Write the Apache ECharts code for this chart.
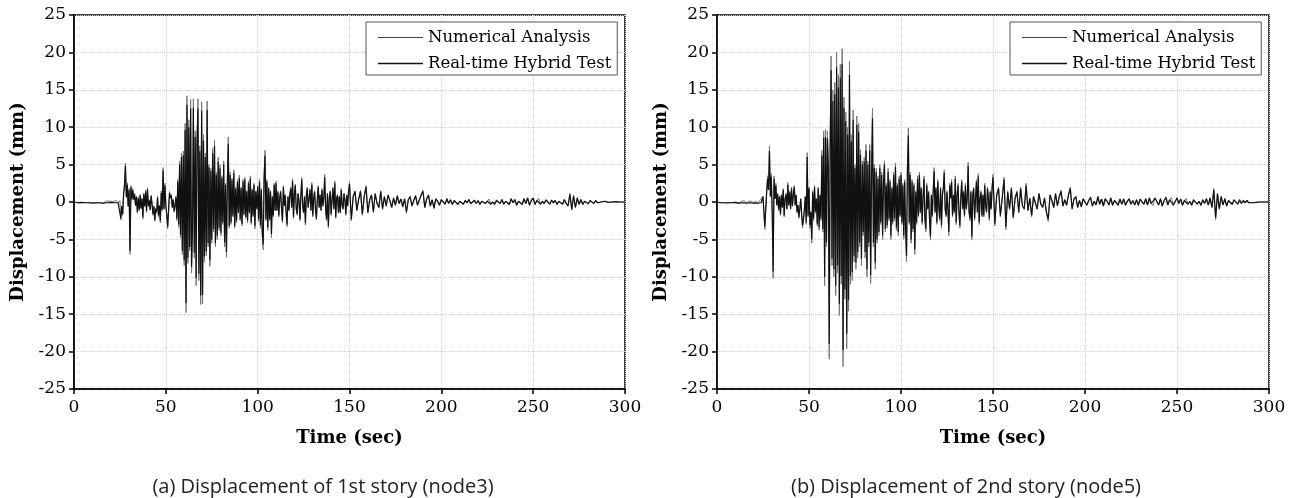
<!DOCTYPE html>
<html>
<head>
<meta charset="utf-8">
<script src="https://cdn.jsdelivr.net/npm/echarts/dist/echarts.min.js"></script>
<style>html,body{margin:0;padding:0;background:#fff}#c{width:1296px;height:498px}</style>
</head>
<body>
<div id="c"></div>
<script>
// Sampling grid of the records: [start, end, step] in seconds
const timeSegments = [[0, 24, 1], [25, 149.5, 0.5], [150, 300, 1]];
const xTicks = [0, 50, 100, 150, 200, 250, 300];
const yTicks = [-25, -20, -15, -10, -5, 0, 5, 10, 15, 20, 25];
const seriesNames = ['Numerical Analysis', 'Real-time Hybrid Test'];
const captions = ['(a) Displacement of 1st story (node3)', '(b) Displacement of 2nd story (node5)'];

// Panel (a): 1st story (node3), displacement in mm
const storyA_numerical = [
0,0.1,-0.1,0.05,-0.1,0.1,-0.05,0.1,-0.1,0.15,-0.1,0.05,-0.15,0.1,-0.1,0.05,-0.2,0.1,-0.1,0.15,-0.1,0.05,-0.15,0.2,-0.1,
0.2,-2.4,-0.5,-1.8,1.2,2.5,5.2,0.8,2.6,-0.5,
1.8,-7.0,2.2,0.2,1.8,0.5,1.2,-0.3,0.8,-1.5,
0.6,-1.2,1.0,-0.8,0.4,-2.3,1.2,-0.5,1.6,-1.4,
1.9,-0.6,0.3,-1.0,0.9,-0.2,-1.8,-0.5,-2.6,-0.8,
-1.5,0.8,-2.0,-0.4,-2.8,1.5,-1.2,4.6,-1.0,2.5,
-0.5,-1.8,-3.6,-1.2,1.4,0.6,1.0,-0.8,0.4,-1.4,
-0.6,0.8,-2.5,3.0,-3.4,5.5,-4.8,6.5,-7.0,6.8,
-8.5,10.5,-14.8,14.2,-8.2,11.0,-6.5,13.7,-9.5,-4.0,
13.8,-7.5,9.5,-11.2,8.8,13.8,-10.5,7.5,-13.7,13.4,
-13.6,9.0,-8.0,6.5,-7.2,13.5,-6.0,5.0,-8.6,4.5,
-5.5,7.2,-4.0,8.3,-6.0,4.0,-5.0,6.0,-3.8,5.0,
-4.5,3.5,-3.0,5.5,-6.0,2.5,-7.4,3.0,8.7,-3.5,
4.0,-3.0,3.2,-2.0,4.3,-3.5,2.0,-2.8,3.0,-1.5,
3.6,-2.5,2.0,-3.2,3.0,-1.8,3.3,-2.2,1.5,-2.8,
2.8,-1.5,3.5,-3.0,1.8,-2.0,2.5,-3.6,1.5,-1.0,
2.2,-2.6,3.0,-3.5,1.8,-4.5,-6.4,3.5,6.9,-2.5,
3.0,-3.8,2.0,-2.5,1.5,-4.8,0.8,-2.0,2.5,-1.2,
2.8,-1.2,1.5,-2.0,0.6,1.5,-1.0,-2.8,2.2,-0.5,
1.0,-1.5,-3.3,0.8,-1.2,1.0,2.0,-0.8,3.1,-2.2,
1.2,2.4,-1.0,-1.8,1.2,0.2,-2.5,0.8,3.3,-0.5,
-1.5,0.8,-3.1,1.0,2.0,-0.8,-1.0,1.8,-1.2,2.6,
-2.0,0.5,1.5,-1.2,-2.4,0.6,2.2,-0.8,1.0,-1.2,
1.8,-0.6,0.5,3.7,-1.0,-2.5,1.2,-3.5,0.6,1.5,
-1.8,0.4,2.0,-1.0,2.8,-2.2,0.5,1.0,-1.5,0.8,
-1.5,1.8,-0.4,-1.0,1.2,0.3,-1.8,1.0,-0.6,1.5,
2.7,-2.5,0.8,1.5,-1.2,0.4,1.6,-1.8,0.8,2.2,
-1.5,0.3,1.0,-1.4,1.2,-0.2,-0.8,1.5,-1.0,0.8,
-0.6,1.0,0.2,-0.8,0.6,-0.5,0.9,-0.2,0.4,-0.7,
0.5,-1.5,0.3,0.8,-0.6,0.2,0.9,-0.5,-0.3,1.0,
1.6,-0.8,0.4,1.0,-0.6,0.3,-0.9,0.5,0.1,-0.5,
0.4,0.1,-0.3,0.5,-0.2,0.3,-0.4,0.2,0.3,-0.4,
0.1,0.3,-0.3,0.2,-0.1,0.4,-0.3,0.0,0.3,-0.2,
0.2,-0.4,0.1,0.3,-0.2,0.1,0.4,-0.3,0.0,-0.4,
0.3,0.1,-0.2,0.4,-0.3,0.1,0.3,-0.4,0.5,-0.1,
0.4,-0.5,0.1,0.3,-0.4,0.5,-0.2,0.6,-0.5,0.2,
0.6,-0.4,0.2,0.5,-0.3,0.1,-0.2,0.3,0.0,-0.3,
0.3,-0.1,0.2,-0.4,0.1,0.2,-0.3,0.4,-0.2,-0.6,
1.2,-1.1,0.9,-0.8,0.6,-0.3,0.4,-0.4,0.1,0.3,
-0.3,0.2,0.1,-0.2,0.2,-0.1,0.1,0.0,-0.1,0.1,
0.05,-0.05,0.05,0,-0.05,0.05,0,0,0,0,0
];
const storyA_hybrid = [
0,0.05,-0.1,0.1,-0.05,0.1,-0.1,0.05,-0.1,0.1,-0.15,0.1,-0.1,0.05,-0.1,0.1,-0.15,0.05,-0.1,0.1,-0.05,0.1,-0.1,0.15,-0.1,
0.1,-2.2,-0.6,-1.6,1.0,2.2,4.8,0.6,2.3,-0.6,
1.6,-6.5,2.0,0.4,1.6,0.3,1.0,-0.5,0.7,-1.3,
0.5,-1.0,0.9,-0.9,0.5,-2.0,1.0,-0.6,1.4,-1.2,
1.7,-0.5,0.2,-1.1,0.8,-0.3,-1.6,-0.6,-2.4,-0.9,
-1.3,0.6,-1.8,-0.5,-2.5,1.2,-1.0,4.2,-0.9,2.2,
-0.6,-1.6,-3.3,-1.0,1.2,0.5,0.9,-0.7,0.3,-1.2,
-0.5,0.6,-2.2,2.7,-3.0,5.0,-4.4,6.0,-6.5,6.2,
-7.8,9.6,-13.5,13.0,-7.5,10.0,-6.0,12.5,-8.7,-3.6,
12.6,-6.8,8.7,-10.2,8.0,12.5,-9.6,6.8,-12.5,12.2,
-12.4,8.2,-7.3,6.0,-6.6,12.3,-5.5,4.6,-7.8,4.1,
-5.0,6.5,-3.6,7.5,-5.5,3.6,-4.5,5.4,-3.4,4.5,
-4.1,3.2,-2.7,5.0,-5.4,2.3,-6.7,2.7,7.8,-3.2,
3.6,-2.7,2.9,-1.8,3.9,-3.2,1.8,-2.5,2.7,-1.4,
3.2,-2.3,1.8,-2.9,2.7,-1.6,3.0,-2.0,1.4,-2.5,
2.5,-1.4,3.1,-2.7,1.6,-1.8,2.3,-3.2,1.4,-0.9,
2.0,-2.3,2.7,-3.1,1.6,-4.0,-5.7,3.2,6.2,-2.3,
2.7,-3.4,1.8,-2.3,1.4,-4.3,0.7,-1.8,2.3,-1.1,
2.5,-1.1,1.3,-1.8,0.5,1.4,-0.9,-2.5,2.0,-0.5,
0.9,-1.4,-3.0,0.7,-1.1,0.9,1.8,-0.7,2.8,-2.0,
1.1,2.2,-0.9,-1.6,1.1,0.2,-2.3,0.7,3.0,-0.5,
-1.4,0.7,-2.8,0.9,1.8,-0.7,-0.9,1.6,-1.1,2.3,
-1.8,0.5,1.4,-1.1,-2.2,0.5,2.0,-0.7,0.9,-1.1,
1.6,-0.5,0.5,3.3,-0.9,-2.3,1.1,-3.2,0.5,1.4,
-1.6,0.4,1.8,-0.9,2.5,-2.0,0.5,0.9,-1.4,0.7,
-1.4,1.6,-0.4,-0.9,1.1,0.3,-1.6,0.9,-0.5,1.4,
2.4,-2.3,0.7,1.4,-1.1,0.4,1.4,-1.6,0.7,2.0,
-1.4,0.3,0.9,-1.3,1.1,-0.2,-0.7,1.4,-0.9,0.7,
-0.5,0.9,0.2,-0.7,0.5,-0.4,0.8,-0.2,0.4,-0.6,
0.4,-1.3,0.3,0.7,-0.5,0.2,0.8,-0.4,-0.3,0.9,
1.4,-0.7,0.4,0.9,-0.5,0.3,-0.8,0.4,0.1,-0.4,
0.3,0.1,-0.3,0.4,-0.2,0.3,-0.3,0.2,0.2,-0.3,
0.1,0.2,-0.3,0.2,-0.1,0.3,-0.2,0.0,0.2,-0.2,
0.2,-0.3,0.1,0.2,-0.2,0.1,0.3,-0.3,0.0,-0.3,
0.2,0.1,-0.2,0.3,-0.3,0.1,0.2,-0.3,0.4,-0.1,
0.3,-0.4,0.1,0.3,-0.3,0.4,-0.2,0.5,-0.4,0.2,
0.5,-0.3,0.2,0.4,-0.3,0.1,-0.2,0.3,0.0,-0.3,
0.2,-0.1,0.2,-0.3,0.1,0.2,-0.3,0.3,-0.2,-0.5,
1.0,-1.0,0.8,-0.7,0.5,-0.3,0.3,-0.3,0.1,0.2,
-0.2,0.2,0.1,-0.2,0.2,-0.1,0.1,0.0,-0.1,0.1,
0.05,-0.05,0,0,-0.05,0.05,0,0,0,0,0
];

// Panel (b): 2nd story (node5), displacement in mm
const storyB_numerical = [
0,0.1,-0.1,0.15,-0.1,0.1,-0.15,0.1,-0.05,0.15,-0.1,0.1,-0.2,0.1,-0.1,0.15,-0.2,0.1,-0.15,0.1,-0.2,0.15,-0.2,0.1,-0.1,
0.8,-1.5,-3.7,-1.0,1.5,3.5,1.8,7.5,0.8,3.8,
-1.5,-10.2,3.5,0.5,2.5,-0.5,1.2,-1.2,0.8,-1.8,
1.0,-0.8,1.8,-2.0,0.5,1.2,-1.0,2.6,-0.5,1.5,
-1.0,2.0,-0.6,1.2,2.2,-0.5,1.0,-1.5,-0.5,-2.2,
-1.0,0.5,-1.8,-3.5,-2.5,-1.0,0.8,-3.0,6.6,-2.0,
2.0,-3.5,-1.5,-5.5,1.5,-2.5,2.2,-1.5,0.5,-3.2,
2.0,-3.8,1.0,-2.5,6.9,-4.0,9.5,-11.2,9.7,-6.0,
9.5,5.0,-21.0,8.0,19.5,-8.5,15.0,-10.0,16.0,-12.5,
20.0,-9.5,17.0,-15.2,18.4,-11.0,20.5,-22.0,14.0,-13.0,
12.0,-19.6,10.0,-14.6,18.8,-11.0,9.0,-10.5,12.3,-8.0,
5.0,-9.0,11.5,-7.5,10.5,-6.0,7.0,-8.5,5.5,-4.5,
6.0,-7.5,7.7,-10.0,5.5,-6.0,7.7,-10.9,4.0,12.5,
-6.0,5.0,-9.0,4.5,-5.5,3.5,-4.5,5.0,-3.0,4.0,
-5.0,3.0,5.5,-4.0,2.5,-3.5,4.5,-2.5,3.0,-5.0,
2.0,-3.0,4.0,-2.5,5.2,-3.8,2.5,-4.5,3.5,-2.0,
4.0,-3.0,2.5,-5.0,3.0,-4.0,-8.0,5.0,9.9,-3.0,
4.0,-5.5,3.0,-4.0,2.5,-7.0,1.5,-3.0,3.5,-2.0,
4.0,-1.5,2.0,-3.0,0.8,3.5,-2.5,-4.0,2.5,-1.0,
1.5,-2.5,-5.1,1.0,-2.0,1.5,4.6,-1.5,2.0,-3.0,
3.0,-0.5,-2.5,2.0,-3.5,1.0,2.0,4.3,-1.0,-2.0,
1.5,-1.0,-4.5,2.5,0.5,3.0,-2.0,1.0,-1.5,3.5,
-3.0,1.0,2.5,-1.5,-3.5,0.5,3.0,-1.0,1.5,-2.0,
2.5,-1.0,0.5,5.3,-1.5,-2.5,1.5,-5.1,1.0,2.0,
-2.5,0.5,3.0,-1.5,3.8,-3.0,0.5,1.5,-2.0,1.0,
-2.0,2.5,-0.5,-1.5,2.0,0.5,-2.5,1.5,-1.0,2.0,
3.7,-3.2,1.0,2.0,-2.0,0.5,3.3,-3.7,1.5,-1.0,
2.0,-2.2,0.5,1.5,-1.5,2.0,-0.5,-1.0,2.5,-1.2,
0.5,-2.0,0.8,1.0,-1.0,1.2,-0.3,-0.8,0.6,-1.5,
-2.6,1.0,0.2,-0.8,1.2,-0.5,0.8,1.6,-0.6,0.3,
-0.5,1.0,2.0,-1.0,0.4,0.8,-0.8,0.2,-0.7,0.5,
0.6,-0.5,0.2,0.7,-0.6,0.1,-0.4,0.8,-0.3,0.4,
-0.6,0.5,0.1,-0.4,0.6,-0.5,0.2,0.3,-0.5,0.4,
-0.3,0.4,-0.5,0.1,0.5,-0.3,0.2,-0.4,0.3,-0.5,
0.4,0.0,-0.3,0.5,-0.4,0.6,-0.2,-0.5,0.6,0.1,
-0.4,0.5,-0.6,0.2,0.7,-0.4,0.3,0.6,-0.5,-0.7,
0.6,-0.2,0.4,-0.5,0.2,0.5,-0.3,0.1,-0.5,0.3,
0.5,-0.3,0.1,-0.5,0.3,-0.2,0.5,-0.4,0.6,-0.8,
1.8,-2.4,1.2,-1.0,0.8,-0.4,0.5,-0.6,0.2,0.4,
-0.4,0.3,0.1,-0.3,0.3,-0.2,0.2,-0.1,0.2,-0.1,
0.1,-0.1,0.1,-0.05,0.05,0,0.05,0,0,0,0
];
const storyB_hybrid = [
0,0.05,-0.1,0.1,-0.1,0.05,-0.1,0.1,-0.1,0.1,-0.05,0.1,-0.15,0.05,-0.1,0.1,-0.15,0.1,-0.1,0.05,-0.15,0.1,-0.15,0.05,-0.1,
0.7,-1.3,-3.3,-0.9,1.3,3.1,1.6,6.8,0.7,3.4,
-1.3,-9.3,3.1,0.4,2.2,-0.4,1.0,-1.0,0.7,-1.6,
0.9,-0.7,1.6,-1.8,0.4,1.0,-0.9,2.3,-0.4,1.3,
-0.9,1.8,-0.5,1.0,2.0,-0.4,0.9,-1.3,-0.4,-2.0,
-0.9,0.4,-1.6,-3.1,-2.2,-0.9,0.7,-2.7,6.0,-1.8,
1.8,-3.1,-1.3,-5.0,1.3,-2.2,2.0,-1.3,0.4,-2.9,
1.8,-3.4,0.9,-2.2,6.2,-3.6,8.6,-10.0,8.7,-5.4,
8.5,4.5,-19.0,7.2,17.6,-7.6,13.5,-9.0,14.4,-11.2,
18.0,-8.5,15.3,-13.6,16.6,-9.9,18.4,-19.8,12.6,-11.7,
10.8,-17.6,9.0,-13.1,17.0,-9.9,8.1,-9.4,11.0,-7.2,
4.5,-8.1,10.3,-6.7,9.4,-5.4,6.3,-7.6,5.0,-4.0,
5.4,-6.7,6.9,-9.0,5.0,-5.4,6.9,-9.8,3.6,11.2,
-5.4,4.5,-8.1,4.0,-5.0,3.1,-4.0,4.5,-2.7,3.6,
-4.5,2.7,5.0,-3.6,2.2,-3.1,4.0,-2.2,2.7,-4.5,
1.8,-2.7,3.6,-2.2,4.7,-3.4,2.2,-4.0,3.1,-1.8,
3.6,-2.7,2.2,-4.5,2.7,-3.6,-7.2,4.5,8.9,-2.7,
3.6,-5.0,2.7,-3.6,2.2,-6.3,1.3,-2.7,3.1,-1.8,
3.6,-1.3,1.8,-2.7,0.7,3.1,-2.2,-3.6,2.2,-0.9,
1.3,-2.2,-4.6,0.9,-1.8,1.3,4.1,-1.3,1.8,-2.7,
2.7,-0.5,-2.2,1.8,-3.1,0.9,1.8,3.9,-0.9,-1.8,
1.3,-0.9,-4.0,2.2,0.5,2.7,-1.8,0.9,-1.3,3.1,
-2.7,0.9,2.2,-1.3,-3.1,0.5,2.7,-0.9,1.3,-1.8,
2.2,-0.9,0.5,4.8,-1.3,-2.2,1.3,-4.6,0.9,1.8,
-2.2,0.5,2.7,-1.3,3.4,-2.7,0.5,1.3,-1.8,0.9,
-1.8,2.2,-0.5,-1.3,1.8,0.5,-2.2,1.3,-0.9,1.8,
3.3,-2.9,0.9,1.8,-1.8,0.5,3.0,-3.3,1.3,-0.9,
1.8,-2.0,0.5,1.3,-1.3,1.8,-0.5,-0.9,2.2,-1.1,
0.5,-1.8,0.7,0.9,-0.9,1.1,-0.3,-0.7,0.5,-1.3,
-2.3,0.9,0.2,-0.7,1.1,-0.5,0.7,1.4,-0.5,0.3,
-0.4,0.9,1.8,-0.9,0.4,0.7,-0.7,0.2,-0.6,0.4,
0.5,-0.4,0.2,0.6,-0.5,0.1,-0.4,0.7,-0.3,0.4,
-0.5,0.4,0.1,-0.4,0.5,-0.4,0.2,0.3,-0.4,0.4,
-0.3,0.4,-0.4,0.1,0.4,-0.3,0.2,-0.4,0.3,-0.4,
0.4,0.0,-0.3,0.4,-0.4,0.5,-0.2,-0.4,0.5,0.1,
-0.4,0.4,-0.5,0.2,0.6,-0.4,0.3,0.5,-0.4,-0.6,
0.5,-0.2,0.4,-0.4,0.2,0.4,-0.3,0.1,-0.4,0.3,
0.4,-0.3,0.1,-0.4,0.3,-0.2,0.4,-0.4,0.5,-0.7,
1.6,-2.1,1.1,-0.9,0.7,-0.4,0.4,-0.5,0.2,0.3,
-0.3,0.3,0.1,-0.3,0.3,-0.2,0.2,-0.1,0.2,-0.1,
0.1,-0.1,0.05,-0.05,0.05,0,0,0,0,0,0
];

function buildTimes() {
  const t = [];
  for (const [a, b, s] of timeSegments) {
    for (let k = 0; a + k * s <= b + 1e-9; k++) t.push(+(a + k * s).toFixed(2));
  }
  return t;
}
const times = buildTimes();
[storyA_numerical, storyA_hybrid, storyB_numerical, storyB_hybrid].forEach((arr, i) => {
  if (arr.length !== times.length) throw new Error('length mismatch in series ' + i + ': ' + arr.length + ' vs ' + times.length);
});
const pairs = vals => times.map((t, i) => [t, vals[i]]);

const SERIF = 'DejaVu Serif';
const NUM_COLOR = '#777';
const HYB_COLOR = '#111';
const grids = [
  {left: 74, top: 15, width: 551, height: 374},
  {left: 717, top: 15, width: 552, height: 374}
];
const labelFont = {fontFamily: SERIF, fontSize: 17, color: '#000'};

const chart = echarts.init(document.getElementById('c'), null, {renderer: 'canvas'});
const option = {
  animation: false,
  backgroundColor: '#fff',
  grid: grids.map(g => Object.assign({show: true, borderColor: '#000', borderWidth: 1.5, backgroundColor: 'transparent'}, g)),
  xAxis: grids.map((g, i) => ({
    gridIndex: i, type: 'value',
    min: xTicks[0], max: xTicks[xTicks.length - 1], interval: xTicks[1] - xTicks[0],
    name: 'Time (sec)', nameLocation: 'middle', nameGap: 40,
    nameTextStyle: {fontFamily: SERIF, fontWeight: 'bold', fontSize: 18, color: '#000'},
    axisLine: {onZero: false, lineStyle: {color: '#000', width: 1.5}},
    axisTick: {show: true, inside: false, length: 5, lineStyle: {color: '#000', width: 1.5}},
    axisLabel: Object.assign({margin: 10}, labelFont),
    splitLine: {show: true, lineStyle: {color: '#d0d0d0', type: 'dotted', width: 1}}
  })),
  yAxis: grids.map((g, i) => ({
    gridIndex: i, type: 'value',
    min: yTicks[0], max: yTicks[yTicks.length - 1], interval: yTicks[1] - yTicks[0],
    name: 'Displacement (mm)', nameLocation: 'middle', nameGap: 47,
    nameTextStyle: {fontFamily: SERIF, fontWeight: 'bold', fontSize: 18, color: '#000'},
    axisLine: {onZero: false, lineStyle: {color: '#000', width: 1.5}},
    axisTick: {show: true, inside: false, length: 5, lineStyle: {color: '#000', width: 1.5}},
    axisLabel: Object.assign({margin: 8}, labelFont),
    splitLine: {show: true, lineStyle: {color: '#d0d0d0', type: 'dotted', width: 1}}
  })),
  legend: grids.map((g, i) => ({
    orient: 'vertical',
    left: i === 0 ? 366 : 1010, top: 22,
    data: [
      {name: seriesNames[0], icon: 'path://M0,0H45V1H0Z', itemStyle: {color: '#444'}},
      {name: seriesNames[1], icon: 'path://M0,0H45V1.6H0Z', itemStyle: {color: HYB_COLOR}}
    ],
    symbolKeepAspect: true,
    backgroundColor: '#fff',
    borderColor: '#555', borderWidth: 1,
    padding: [7, 6, 3, 12], itemGap: 9,
    itemWidth: 45, itemHeight: 14,
    selectedMode: false,
    textStyle: {fontFamily: SERIF, fontSize: 16.5, color: '#000'}
  })),
  series: [
    {name: seriesNames[0], type: 'line', xAxisIndex: 0, yAxisIndex: 0, data: pairs(storyA_numerical), symbol: 'none', lineStyle: {color: NUM_COLOR, width: 1}, itemStyle: {color: NUM_COLOR}},
    {name: seriesNames[1], type: 'line', xAxisIndex: 0, yAxisIndex: 0, data: pairs(storyA_hybrid), symbol: 'none', lineStyle: {color: HYB_COLOR, width: 1.2}, itemStyle: {color: HYB_COLOR}},
    {name: seriesNames[0], type: 'line', xAxisIndex: 1, yAxisIndex: 1, data: pairs(storyB_numerical), symbol: 'none', lineStyle: {color: NUM_COLOR, width: 1}, itemStyle: {color: NUM_COLOR}},
    {name: seriesNames[1], type: 'line', xAxisIndex: 1, yAxisIndex: 1, data: pairs(storyB_hybrid), symbol: 'none', lineStyle: {color: HYB_COLOR, width: 1.2}, itemStyle: {color: HYB_COLOR}}
  ],
  graphic: captions.map((txt, i) => ({
    type: 'text', x: i === 0 ? 323 : 966, y: 487,
    style: {text: txt, fontFamily: 'Open Sans', fontSize: 20, fill: '#222', align: 'center', verticalAlign: 'middle'}
  }))
};
chart.setOption(option);
</script>
</body>
</html>
